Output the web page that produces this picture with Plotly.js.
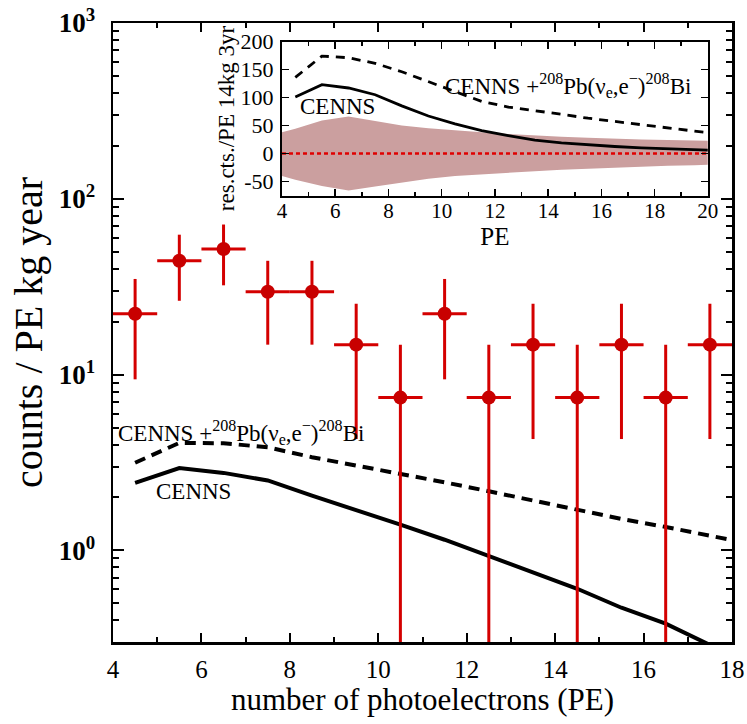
<!DOCTYPE html>
<html>
<head>
<meta charset="utf-8">
<script src="https://cdn.plot.ly/plotly-3.0.1.min.js"></script>
<style>html,body{margin:0;padding:0;background:#fff;}#chart{width:747px;height:724px;}</style>
</head>
<body>
<div id="chart"></div>
<script>
// ---------- main panel data ----------
const binCenters = [4.5, 5.5, 6.5, 7.5, 8.5, 9.5, 10.5, 11.5, 12.5, 13.5, 14.5, 15.5, 16.5, 17.5];
const binHalfWidth = 0.5;
const measuredCounts = [22.2, 44.4, 51.8, 29.6, 29.6, 14.8, 7.4, 22.2, 7.4, 14.8, 7.4, 14.8, 7.4, 14.8];
const measuredErr = [12.8, 18.1, 19.6, 14.8, 14.8, 10.5, 7.4, 12.8, 7.4, 10.5, 7.4, 10.5, 7.4, 10.5];

const cennsPE = [4.5, 5.5, 6.5, 7.5, 8.5, 9.5, 10.5, 11.5, 12.5, 13.5, 14.5, 15.5, 16.5, 17.5];
const cennsMain = [2.42, 2.94, 2.76, 2.50, 2.05, 1.70, 1.40, 1.15, 0.93, 0.75, 0.605, 0.472, 0.383, 0.29];
const combPE = [4.5, 5.5, 6.5, 7.5, 8.5, 9.5, 10.5, 11.5, 12.5, 13.5, 14.5, 15.5, 16.5, 17.5, 18.5];
const combMain = [3.15, 4.09, 4.07, 3.86, 3.39, 3.04, 2.75, 2.44, 2.17, 1.92, 1.70, 1.51, 1.36, 1.22, 1.08];

const yTickVals = [1, 10, 100, 1000];
const yTickText = ['10<sup>0</sup>', '10<sup>1</sup>', '10<sup>2</sup>', '10<sup>3</sup>'];
const yMinorVals = [0.4, 0.5, 0.6, 0.7, 0.8, 0.9, 2, 3, 4, 5, 6, 7, 8, 9,
  20, 30, 40, 50, 60, 70, 80, 90, 200, 300, 400, 500, 600, 700, 800, 900];

// ---------- inset data ----------
const insetPE = [4.5, 5.5, 6.5, 7.5, 8.5, 9.5, 10.5, 11.5, 12.5, 13.5, 14.5, 15.5, 16.5, 17.5, 18.5, 19.5, 20];
const insetCenns = [101, 123, 117, 105, 85, 67, 53, 41, 32, 24, 19, 15.5, 12.5, 10, 8, 7, 6];
const insetComb = [136, 174, 171, 161, 146, 128, 110, 93, 83, 77, 70, 63, 57, 51, 45, 40, 37.5];
const bandPE = [4, 4.5, 5.5, 6.5, 7.5, 8.5, 9.5, 10.5, 11.5, 12.5, 13.5, 14.5, 15.5, 16.5, 17.5, 18.5, 19.5, 20];
const bandUpper = [38, 44, 59, 66, 58, 50, 45, 41, 38, 35, 32, 30, 28, 26, 25, 24, 23, 23];
const bandLower = [-40, -47, -58, -66, -59, -52, -45, -40, -37, -34, -31, -29, -27, -25, -24, -22, -21, -20];
const zeroPE = [4, 20];
const zeroVal = [0, 0];
const insetYTickVals = [-50, 0, 50, 100, 150, 200];
const insetYTickText = ['-50', '0', '50', '100', '150', '200'];

const combLabel = 'CENNS +<sup>208</sup>Pb(ν<sub>e</sub>,e<sup>−</sup>)<sup>208</sup>Bi';
const FONT = 'Liberation Serif, Times New Roman, serif';
const RED = '#d40000';

const traces = [
  // inset band
  {x: bandPE, y: bandLower, xaxis: 'x2', yaxis: 'y2', mode: 'lines',
   line: {width: 0, color: 'rgba(0,0,0,0)'}, hoverinfo: 'skip', showlegend: false},
  {x: bandPE, y: bandUpper, xaxis: 'x2', yaxis: 'y2', mode: 'lines', fill: 'tonexty',
   fillcolor: '#cb9f9f', line: {width: 0, color: 'rgba(0,0,0,0)'}, hoverinfo: 'skip', showlegend: false},
  {x: zeroPE, y: zeroVal, xaxis: 'x2', yaxis: 'y2', mode: 'lines',
   line: {color: '#e00000', width: 2.5, dash: '4px,3px'}, showlegend: false},
  {x: insetPE, y: insetCenns, xaxis: 'x2', yaxis: 'y2', mode: 'lines',
   line: {color: '#000', width: 2.8}, showlegend: false},
  {x: insetPE, y: insetComb, xaxis: 'x2', yaxis: 'y2', mode: 'lines',
   line: {color: '#000', width: 2.8, dash: '9px,7px'}, showlegend: false},
  // main panel
  {x: cennsPE, y: cennsMain, mode: 'lines', line: {color: '#000', width: 4}, showlegend: false},
  {x: combPE, y: combMain, mode: 'lines', line: {color: '#000', width: 4, dash: '11px,7px'}, showlegend: false},
  {x: binCenters, y: measuredCounts, mode: 'markers',
   marker: {color: '#c80000', size: 14, symbol: 'circle'},
   error_y: {type: 'data', array: measuredErr, symmetric: true, color: RED, thickness: 3, width: 0},
   error_x: {type: 'constant', value: binHalfWidth, color: RED, thickness: 3, width: 0},
   showlegend: false}
];

const layout = {
  width: 747, height: 724,
  margin: {l: 113, r: 15, t: 23, b: 82},
  paper_bgcolor: '#fff', plot_bgcolor: '#fff',
  font: {family: FONT, color: '#000'},
  showlegend: false,
  xaxis: {
    range: [4, 18], tick0: 4, dtick: 2, ticks: 'inside', ticklen: 9, tickwidth: 2, tickcolor: '#000',
    minor: {dtick: 1, ticks: 'inside', ticklen: 5, tickwidth: 2, tickcolor: '#000'},
    showline: true, linewidth: 2.5, linecolor: '#000', mirror: 'ticks',
    showgrid: false, zeroline: false,
    tickfont: {family: FONT, size: 25},
    ticklabelstandoff: 3,
    title: {text: 'number of photoelectrons (PE)', font: {family: FONT, size: 31}, standoff: 5}
  },
  yaxis: {
    type: 'log', range: [-0.521, 3],
    tickmode: 'array', tickvals: yTickVals, ticktext: yTickText,
    ticks: 'inside', ticklen: 11, tickwidth: 2, tickcolor: '#000',
    minor: {tickmode: 'array', tickvals: yMinorVals, ticks: 'inside', ticklen: 6, tickwidth: 2, tickcolor: '#000'},
    showline: true, linewidth: 2.5, linecolor: '#000', mirror: 'ticks',
    showgrid: false, zeroline: false,
    tickfont: {family: FONT, size: 27, weight: 'bold'},
    ticklabelstandoff: 10,
    title: {text: 'counts / PE kg year', font: {family: FONT, size: 40}, standoff: 4}
  },
  xaxis2: {
    domain: [0.273, 0.961], anchor: 'y2', range: [4, 20], tick0: 4, dtick: 2,
    ticks: 'inside', ticklen: 7, tickwidth: 1.5, tickcolor: '#000',
    minor: {dtick: 1, ticks: 'inside', ticklen: 4, tickwidth: 1.5, tickcolor: '#000'},
    showline: true, linewidth: 2, linecolor: '#000', mirror: 'ticks',
    showgrid: false, zeroline: false,
    tickfont: {family: FONT, size: 21}, ticklabelstandoff: -5,
    title: {text: 'PE', font: {family: FONT, size: 25}, standoff: 0}
  },
  yaxis2: {
    domain: [0.7213, 0.9701], anchor: 'x2', range: [-75, 200],
    tickmode: 'array', tickvals: insetYTickVals, ticktext: insetYTickText,
    ticks: 'inside', ticklen: 7, tickwidth: 1.5, tickcolor: '#000',
    showline: true, linewidth: 2, linecolor: '#000', mirror: 'ticks',
    showgrid: false, zeroline: false,
    tickfont: {family: FONT, size: 22}, ticklabelstandoff: 2,
    title: {text: 'res.cts./PE 14kg 3yr', font: {family: FONT, size: 23}, standoff: 0}
  },
  annotations: [
    {x: 4.07, y: 0.67, xref: 'x', yref: 'y', text: combLabel, showarrow: false,
     xanchor: 'left', yanchor: 'middle', font: {family: FONT, size: 23}},
    {x: 5.82, y: 0.337, xref: 'x', yref: 'y', text: 'CENNS', showarrow: false,
     xanchor: 'center', yanchor: 'middle', font: {family: FONT, size: 23}},
    {x: 10.05, y: 122, xref: 'x2', yref: 'y2', text: combLabel, showarrow: false,
     xanchor: 'left', yanchor: 'middle', font: {family: FONT, size: 23}},
    {x: 6.08, y: 84, xref: 'x2', yref: 'y2', text: 'CENNS', showarrow: false,
     xanchor: 'center', yanchor: 'middle', font: {family: FONT, size: 23}}
  ]
};

Plotly.newPlot('chart', traces, layout, {displayModeBar: false, staticPlot: true});
</script>
</body>
</html>
